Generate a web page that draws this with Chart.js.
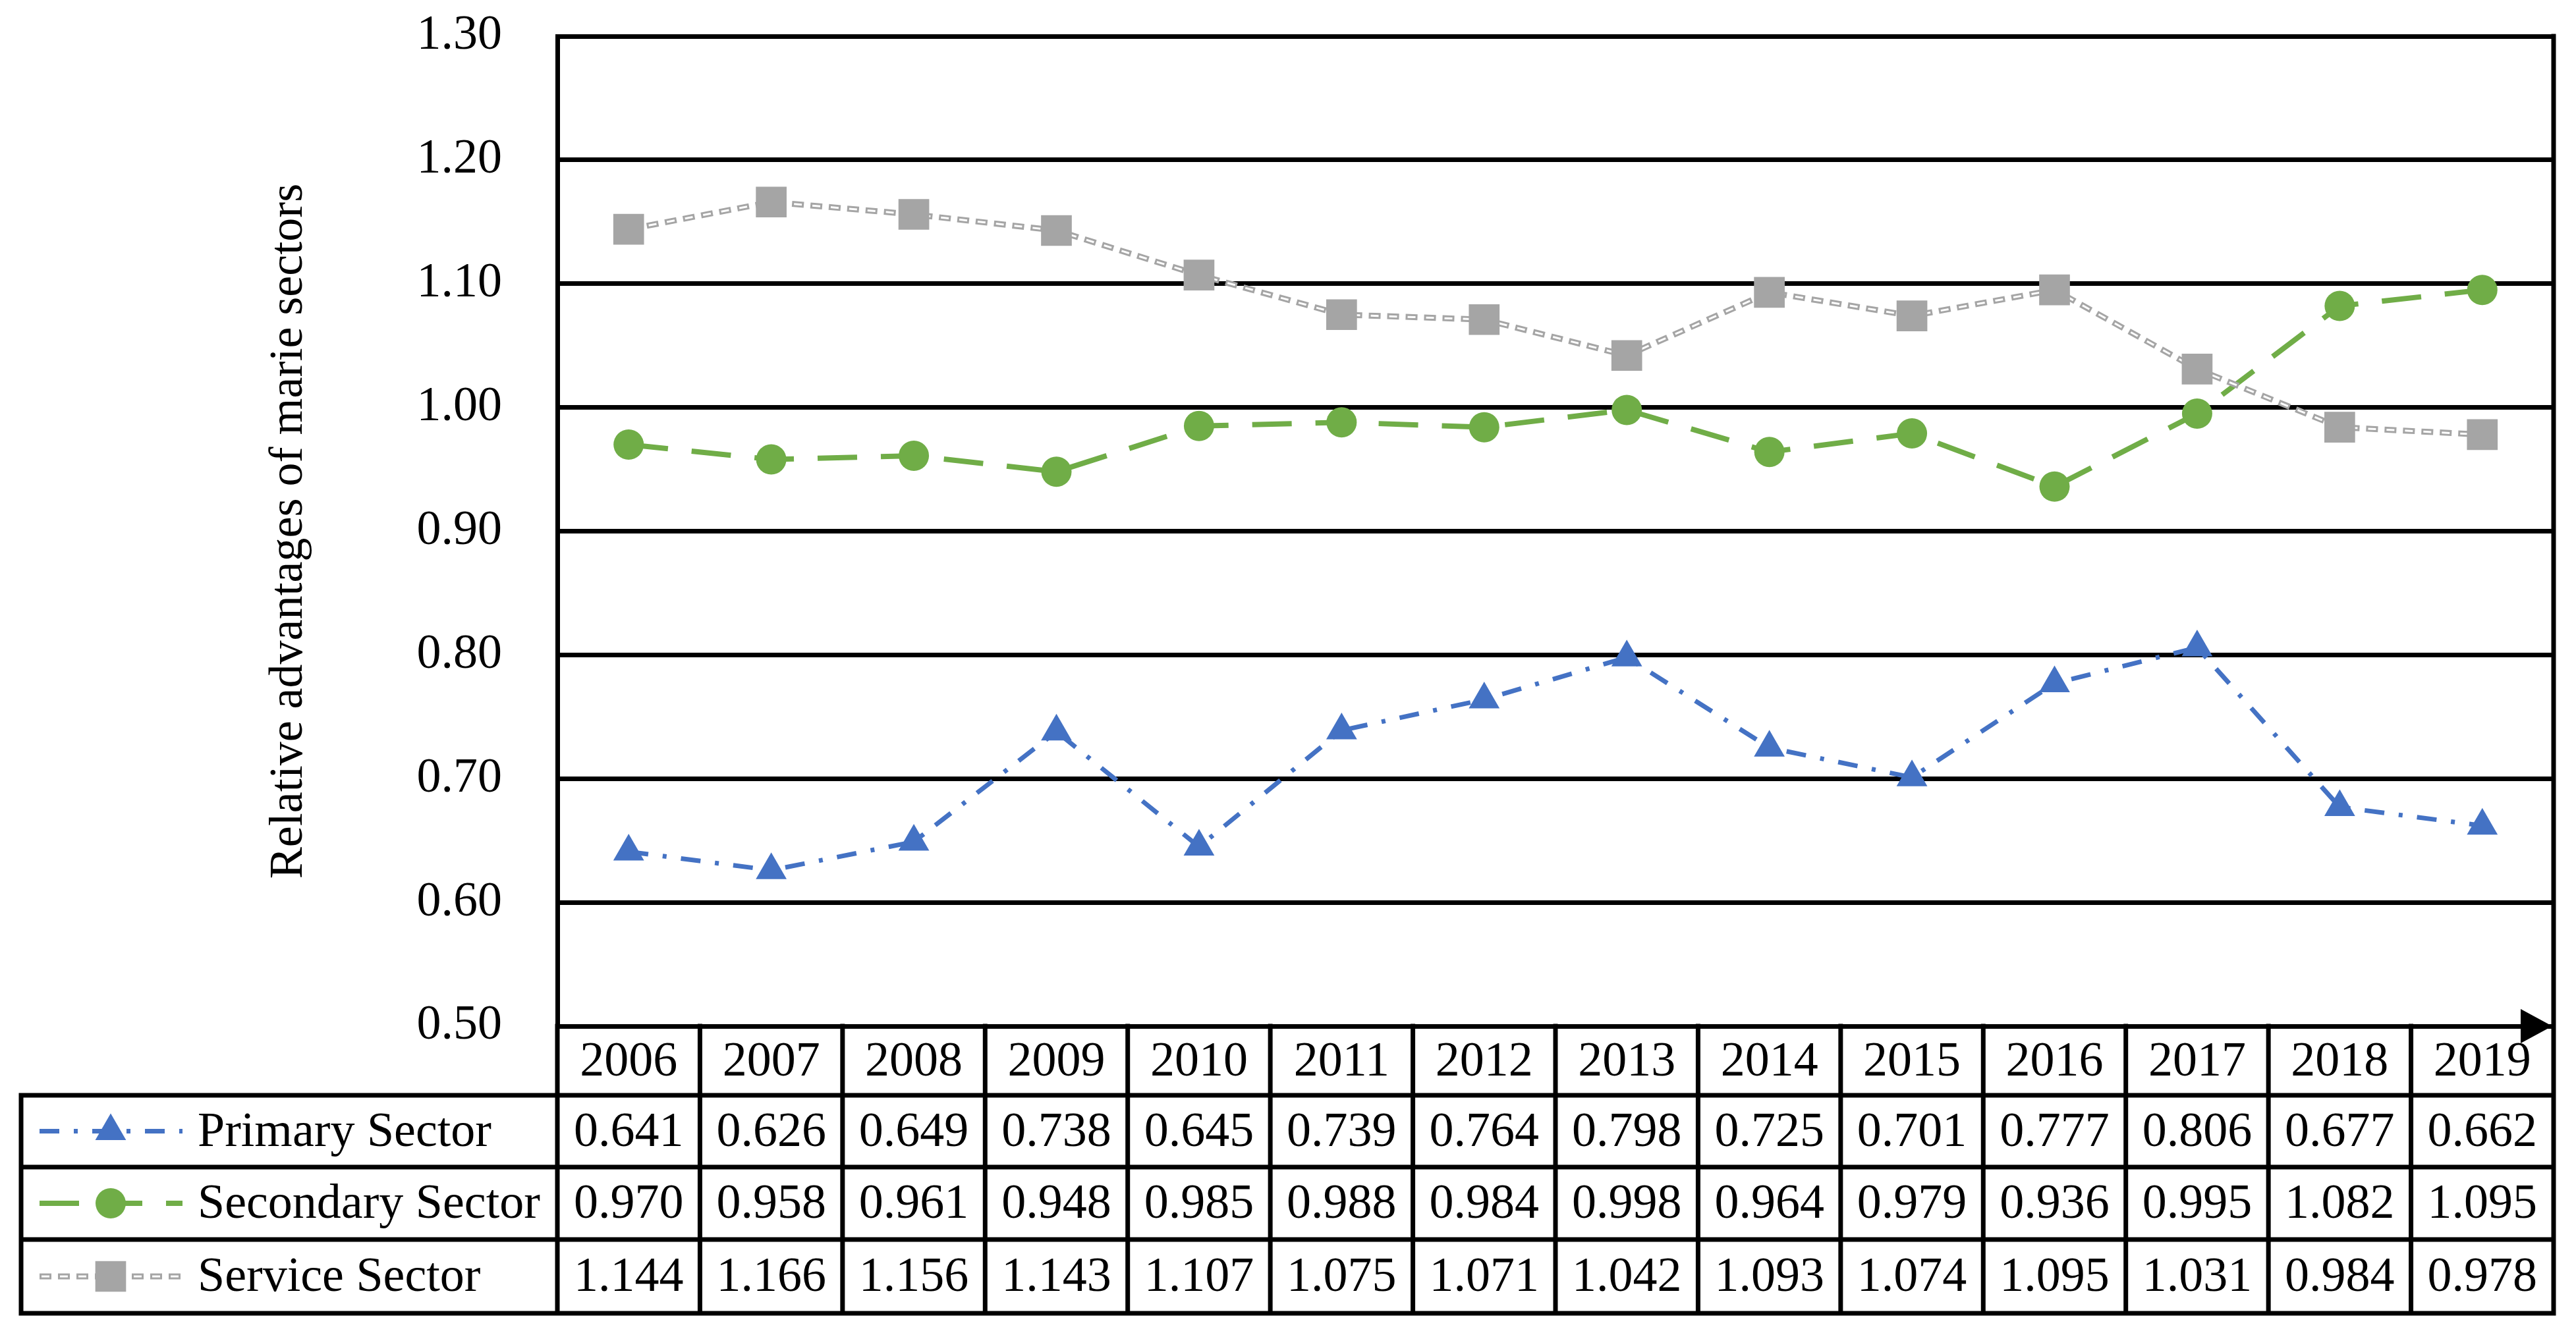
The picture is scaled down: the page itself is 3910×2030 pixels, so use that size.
<!DOCTYPE html>
<html>
<head>
<meta charset="utf-8">
<script src="https://cdn.jsdelivr.net/npm/chart.js@4.4.1/dist/chart.umd.min.js"></script>
<style>
  html, body { margin: 0; padding: 0; background: #fff; }
  #wrap { width: 3910px; height: 2030px; }
</style>
</head>
<body>
<div id="wrap"><canvas id="chart" width="3910" height="2030"></canvas></div>
<script>
const years = ['2006', '2007', '2008', '2009', '2010', '2011', '2012', '2013', '2014', '2015', '2016', '2017', '2018', '2019'];
const primary = [0.641, 0.626, 0.649, 0.738, 0.645, 0.739, 0.764, 0.798, 0.725, 0.701, 0.777, 0.806, 0.677, 0.662];
const secondary = [0.970, 0.958, 0.961, 0.948, 0.985, 0.988, 0.984, 0.998, 0.964, 0.979, 0.936, 0.995, 1.082, 1.095];
const service = [1.144, 1.166, 1.156, 1.143, 1.107, 1.075, 1.071, 1.042, 1.093, 1.074, 1.095, 1.031, 0.984, 0.978];
const seriesNames = ['Primary Sector', 'Secondary Sector', 'Service Sector'];

const blue = '#4472C4';
const green = '#70AD47';
const gray = '#A5A5A5';
const FONT = 'Liberation Serif';

// line look for each series (also used for the legend samples in the table)
const styles = [
    { color: blue, width: 7, dash: [30, 22, 6, 22], point: 'triangle', r: 27 },
    { color: green, width: 8, dash: [60, 36], point: 'circle', r: 23 },
    { color: gray, width: 9, dash: [18, 10], point: 'rect', r: 33 }
];

Chart.defaults.font.family = FONT;

function drawMarker(ctx, style, r, x, y, color) {
    ctx.save();
    ctx.fillStyle = color;
    ctx.beginPath();
    if (style === 'triangle') {
        ctx.moveTo(x, y - r);
        ctx.lineTo(x + 0.866 * r, y + 0.5 * r);
        ctx.lineTo(x - 0.866 * r, y + 0.5 * r);
        ctx.closePath();
    } else if (style === 'circle') {
        ctx.arc(x, y, r, 0, Math.PI * 2);
    } else {
        const s = r * Math.SQRT1_2;
        ctx.rect(x - s, y - s, 2 * s, 2 * s);
    }
    ctx.fill();
    ctx.restore();
}

const tablePlugin = {
    id: 'dataTable',
    afterDraw(chart) {
        const ctx = chart.ctx;
        const area = chart.chartArea;
        const xs = chart.scales.x;
        const colW = (area.right - area.left) / years.length;
        const rowTops = [area.bottom, area.bottom + 105, area.bottom + 214, area.bottom + 324];
        const tableBottom = area.bottom + 436;
        const legendLeft = 32;

        ctx.save();
        ctx.strokeStyle = '#000';
        ctx.lineWidth = 7;
        ctx.lineCap = 'square';

        // right border of plot + table
        ctx.beginPath();
        ctx.moveTo(area.right, area.top);
        ctx.lineTo(area.right, tableBottom);
        // left border continues through table
        ctx.moveTo(area.left, area.bottom);
        ctx.lineTo(area.left, tableBottom);
        // column separators
        for (let i = 1; i < years.length; i++) {
            const cx = area.left + i * colW;
            ctx.moveTo(cx, area.bottom);
            ctx.lineTo(cx, tableBottom);
        }
        // horizontal lines
        for (let k = 1; k < rowTops.length; k++) {
            ctx.moveTo(legendLeft, rowTops[k]);
            ctx.lineTo(area.right, rowTops[k]);
        }
        ctx.moveTo(legendLeft, tableBottom);
        ctx.lineTo(area.right, tableBottom);
        ctx.moveTo(legendLeft, rowTops[1]);
        ctx.lineTo(legendLeft, tableBottom);
        ctx.stroke();

        // arrow head on the x axis
        ctx.fillStyle = '#000';
        ctx.beginPath();
        ctx.moveTo(area.right - 2, area.bottom);
        ctx.lineTo(area.right - 50, area.bottom - 26);
        ctx.lineTo(area.right - 50, area.bottom + 26);
        ctx.closePath();
        ctx.fill();

        // texts
        ctx.font = '74px "' + FONT + '"';
        ctx.textAlign = 'center';
        ctx.textBaseline = 'middle';
        ctx.fillStyle = '#000';
        const headY = (rowTops[0] + rowTops[1]) / 2 + 3;
        years.forEach((yr, i) => ctx.fillText(yr, xs.getPixelForValue(i), headY));

        const allSeries = [primary, secondary, service];
        allSeries.forEach((vals, s) => {
            const top = rowTops[s + 1];
            const bot = s + 2 < rowTops.length ? rowTops[s + 2] : tableBottom;
            const cy = (top + bot) / 2 + 3;
            ctx.textAlign = 'center';
            vals.forEach((v, i) => ctx.fillText(v.toFixed(3), xs.getPixelForValue(i), cy));
            ctx.textAlign = 'left';
            ctx.fillText(seriesNames[s], 300, cy);

            // legend sample
            const st = styles[s];
            ctx.save();
            ctx.strokeStyle = st.color;
            ctx.lineWidth = st.width;
            ctx.lineCap = 'butt';
            ctx.setLineDash(st.dash);
            ctx.beginPath();
            ctx.moveTo(60, cy - 3);
            ctx.lineTo(277, cy - 3);
            ctx.stroke();
            if (s === 2) {
                ctx.strokeStyle = '#fff';
                ctx.lineWidth = 3;
                ctx.setLineDash([12, 16]);
                ctx.lineDashOffset = -3;
                ctx.beginPath();
                ctx.moveTo(60, cy - 3);
                ctx.lineTo(277, cy - 3);
                ctx.stroke();
            }
            ctx.restore();
            drawMarker(ctx, st.point, st.r, 168, cy - 3, st.color);
        });
        ctx.restore();
    }
};

const data = {
    labels: years,
    datasets: [
        {
            label: seriesNames[0],
            data: primary,
            borderColor: blue,
            backgroundColor: blue,
            borderWidth: styles[0].width,
            borderDash: styles[0].dash,
            pointStyle: 'triangle',
            pointRadius: styles[0].r,
            pointBackgroundColor: blue,
            pointBorderWidth: 0,
            tension: 0,
            order: 4
        },
        {
            label: seriesNames[1],
            data: secondary,
            borderColor: green,
            backgroundColor: green,
            borderWidth: styles[1].width,
            borderDash: styles[1].dash,
            pointStyle: 'circle',
            pointRadius: styles[1].r,
            pointBackgroundColor: green,
            pointBorderWidth: 0,
            tension: 0,
            order: 3
        },
        {
            label: seriesNames[2],
            data: service,
            borderColor: gray,
            borderWidth: styles[2].width,
            borderDash: styles[2].dash,
            pointRadius: 0,
            tension: 0,
            order: 2
        },
        {
            label: 'service-inner',
            data: service,
            borderColor: '#fff',
            borderWidth: 3,
            borderDash: [12, 16],
            borderDashOffset: -3,
            pointRadius: 0,
            tension: 0,
            order: 1
        },
        {
            label: 'service-points',
            data: service,
            showLine: false,
            pointStyle: 'rect',
            pointRadius: styles[2].r,
            pointBackgroundColor: gray,
            pointBorderWidth: 0,
            order: 0
        }
    ]
};

const config = {
    type: 'line',
    data: data,
    options: {
        responsive: false,
        devicePixelRatio: 1,
        animation: false,
        layout: { padding: { left: 0, top: 55, right: 34, bottom: 472 } },
        plugins: {
            legend: { display: false },
            tooltip: { enabled: false }
        },
        scales: {
            x: {
                type: 'category',
                display: false,
                offset: true
            },
            y: {
                min: 0.5,
                max: 1.3,
                ticks: {
                    stepSize: 0.1,
                    padding: 84,
                    color: '#000',
                    font: { size: 74 },
                    callback: v => v.toFixed(2)
                },
                grid: { color: '#000', lineWidth: 7, drawTicks: false },
                border: { display: true, color: '#000', width: 7 },
                title: {
                    display: true,
                    text: 'Relative advantages of marie sectors',
                    color: '#000',
                    font: { size: 72 },
                    padding: { top: 396, bottom: 0 }
                },
                afterFit(scale) {
                    scale.width = 846;
                    scale.paddingTop = 0;
                    scale.paddingBottom = 0;
                }
            }
        }
    },
    plugins: [tablePlugin]
};

const myChart = new Chart(document.getElementById('chart').getContext('2d'), config);
</script>
</body>
</html>
